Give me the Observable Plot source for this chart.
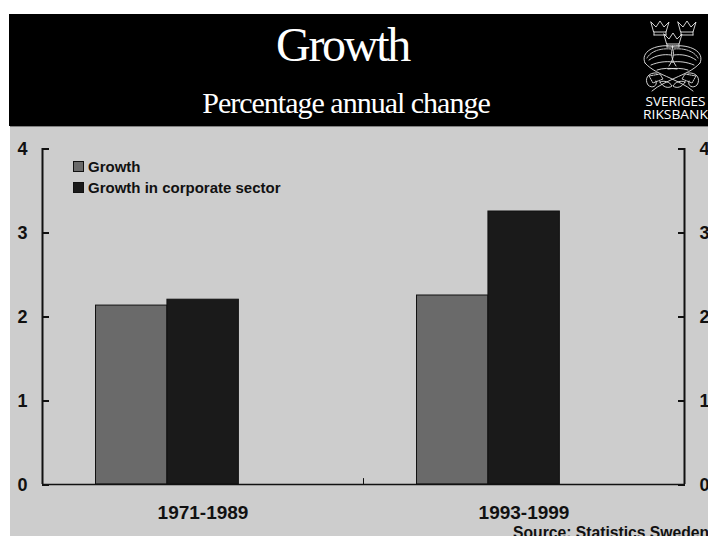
<!DOCTYPE html>
<html>
<head>
<meta charset="utf-8">
<style>
  html, body { margin: 0; padding: 0; background: #fff; overflow: hidden; }
  #page { position: relative; width: 708px; height: 536px; overflow: hidden; font-family: "Liberation Sans", Arial, sans-serif; }
  #banner { position: absolute; left: 9px; top: 14px; width: 699px; height: 112px; background: #000; color: #fff; font-family: "Liberation Serif", serif; }
  #banner .title { position: absolute; left: 0; width: 667px; top: 5px; text-align: center; font-size: 48px; line-height: 52px; letter-spacing: -2.3px; }
  #banner .subtitle { position: absolute; left: 0; width: 674px; top: 71px; text-align: center; font-size: 30px; line-height: 36px; letter-spacing: -1px; }
  #panel { position: absolute; left: 10px; top: 126px; width: 698px; height: 410px; background: #cdcdcd; border-top: 1px solid #808080; box-sizing: border-box; }
  #chart { position: absolute; left: 0; top: 127px; }
  #chart svg { display: block; background: transparent; }
  #legend { position: absolute; left: 73px; top: 156px; font: bold 15px/21px "Liberation Sans", sans-serif; color: #111; }
  #legend div { display: flex; align-items: center; height: 21px; white-space: nowrap; }
  #legend i { display: inline-block; width: 9px; height: 9px; margin-right: 4px; border: 1px solid #111; }
  #source { position: absolute; left: 513px; top: 524px; font: bold 15.7px/17px "Liberation Sans", sans-serif; color: #111; white-space: nowrap; }
  #logo { position: absolute; left: 636px; top: 14px; }
</style>
<script src="https://cdn.jsdelivr.net/npm/d3@7"></script>
<script src="https://cdn.jsdelivr.net/npm/@observablehq/plot@0.6"></script>
</head>
<body>
<div id="page">
  <div id="banner">
    <div class="title">Growth</div>
    <div class="subtitle">Percentage annual change</div>
  </div>
  <svg id="logo" width="72" height="112" viewBox="0 0 72 112" fill="none" stroke="#e8e8e8" stroke-width="0.9" stroke-linejoin="round" stroke-linecap="round">
    <defs>
      <!-- one crown of the three -->
      <g id="crown">
        <path d="M0 1 L5 6 L9 0 L13 6 L18 1 L15 11 H3 Z"/>
        <path d="M3 14 H15 M3 11 V14 M15 11 V14"/>
      </g>
      <!-- left half of the crossed arms; the right half mirrors it -->
      <g id="arm">
        <path d="M9 49 C4 38 18 30 37 32 C34 40 36 46 40 52"/>
        <path d="M11 44 C15 37 25 34 35 35" stroke-dasharray="1.5 1"/>
        <path d="M9 49 C15 56 25 60 34 64 C42 68 50 71 57 77"/>
        <path d="M13 46 C20 41 28 40 35 41 M15 51 C22 48 30 47 37 48 M21 56 C27 54 33 54 41 55"/>
        <path d="M21 59 C12 58 8 65 12 71 C16 75 22 72 20 67"/>
        <path d="M13 62 L24 60 L27 65 L17 69 Z" stroke-dasharray="1.5 1"/>
        <path d="M24 68 C28 66 34 68 36 72 C32 75 27 73 24 68 Z"/>
      </g>
    </defs>
    <use href="#crown" x="15" y="7"/>
    <use href="#crown" x="42" y="7"/>
    <use href="#crown" x="28" y="19"/>
    <use href="#arm"/>
    <use href="#arm" transform="translate(73 0) scale(-1 1)"/>
    <g fill="#fff" stroke="none" font-family="'Open Sans', sans-serif" font-size="13.5" text-anchor="start">
      <text x="9.5" y="92" textLength="60" lengthAdjust="spacingAndGlyphs">SVERIGES</text>
      <text x="7" y="105" textLength="65" lengthAdjust="spacingAndGlyphs">RIKSBANK</text>
    </g>
  </svg>
  <div id="panel"></div>
  <div id="chart"></div>
  <div id="legend"></div>
  <div id="source">Source: Statistics Sweden</div>
</div>
<script>
// Average annual growth by period
const periods = ["1971-1989", "1993-1999"];
const growth = [2.13, 2.25];
const corporateGrowth = [2.2, 3.25];
const seriesNames = ["Growth", "Growth in corporate sector"];
const seriesColors = ["#6a6a6a", "#1a1a1a"];
const yTicks = [0, 1, 2, 3, 4];

// Each period occupies one unit of x; the pair of bars sits left of the period's centre
const barStart = 0.1667;
const barWidth = 0.2225;

const rows = periods.flatMap((period, i) => [
  { slot: i, series: 0, value: growth[i] },
  { slot: i, series: 1, value: corporateGrowth[i] }
]);

const ink = "#111";

const plot = Plot.plot({
  width: 708,
  height: 409,
  marginLeft: 42,
  marginRight: 24,
  marginTop: 21,
  marginBottom: 52,
  style: { background: "transparent", fontFamily: "'Liberation Sans', sans-serif", overflow: "hidden" },
  x: { domain: [0, periods.length], label: null },
  y: { domain: [0, 4], label: null },
  marks: [
    Plot.rectY(rows, {
      x1: d => d.slot + barStart + d.series * barWidth,
      x2: d => d.slot + barStart + (d.series + 1) * barWidth,
      y1: 0,
      y2: "value",
      fill: d => seriesColors[d.series],
      stroke: ink,
      strokeWidth: 1
    }),
    Plot.ruleY([0], { stroke: ink, strokeWidth: 1.5 }),
    Plot.ruleX([0, periods.length], { stroke: ink, strokeWidth: 2 }),
    Plot.ruleX([1], { y1: 0, y2: 0.07, stroke: ink, strokeWidth: 1 }),
    Plot.axisY({ anchor: "left", ticks: yTicks, tickSize: -7, tickPadding: 22, tickFormat: d3.format("d"), fontSize: 18, fontWeight: "bold", fill: ink, stroke: ink, strokeWidth: 2, dy: 0.5 }),
    Plot.axisY({ anchor: "right", ticks: yTicks, tickSize: -7, tickPadding: 22, tickFormat: d3.format("d"), fontSize: 18, fontWeight: "bold", fill: ink, stroke: ink, strokeWidth: 2, dy: 0.5 }),
    Plot.axisX({ anchor: "bottom", ticks: periods.map((p, i) => i + 0.5), tickSize: 0, tickPadding: 21, tickFormat: v => periods[v - 0.5], fontSize: 19, fontWeight: "bold", fill: ink })
  ]
});
document.getElementById("chart").append(plot);

// Series key above the bars
const legend = d3.select("#legend");
seriesNames.forEach((name, i) => {
  const row = legend.append("div");
  row.append("i").style("background", seriesColors[i]);
  row.append("span").text(name);
});
</script>
</body>
</html>
